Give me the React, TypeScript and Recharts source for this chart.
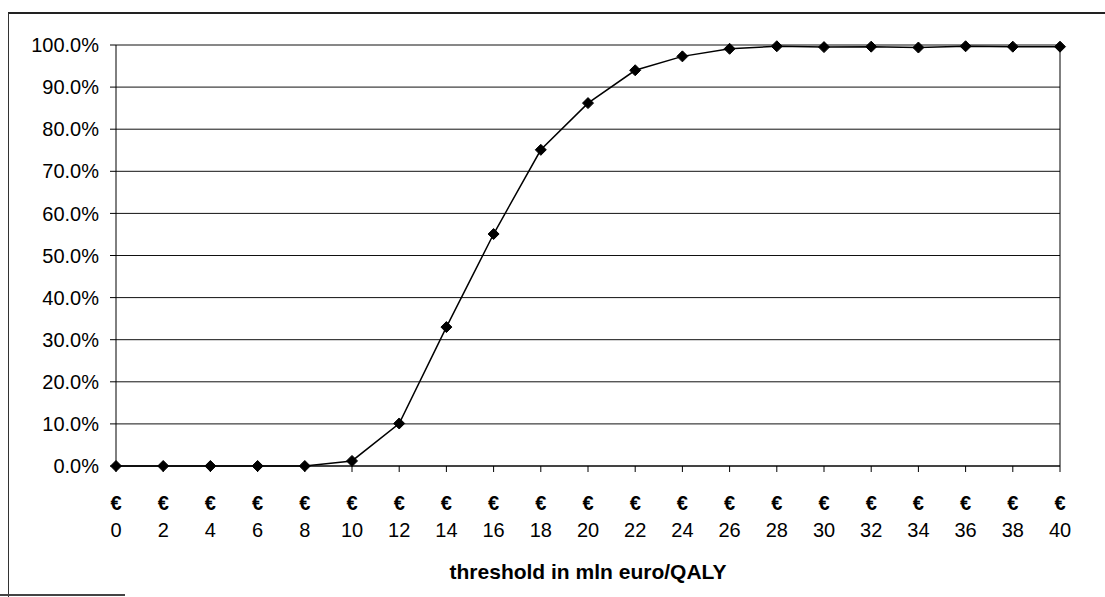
import { LineChart, Line, XAxis, YAxis, CartesianGrid, ReferenceLine } from "recharts";

// threshold (mln euro / QALY) and probability cost-effective (%)
const thresholds = [0, 2, 4, 6, 8, 10, 12, 14, 16, 18, 20, 22, 24, 26, 28, 30, 32, 34, 36, 38, 40];
const probability = [0, 0, 0, 0, 0, 1.2, 10.1, 33.0, 55.1, 75.1, 86.2, 94.0, 97.3, 99.1, 99.7, 99.5, 99.6, 99.4, 99.7, 99.6, 99.6];
const yTicks = [0, 10, 20, 30, 40, 50, 60, 70, 80, 90, 100];
const axisTitle = "threshold in mln euro/QALY";

const data = thresholds.map((t, i) => ({ t, p: probability[i] }));

const FONT = "'Liberation Sans', Arial, sans-serif";

const Diamond = (props: any) => {
  const { cx, cy } = props;
  if (cx == null || cy == null) return null;
  const r = 5.5;
  return (
    <polygon
      points={`${cx},${cy - r} ${cx + r},${cy} ${cx},${cy + r} ${cx - r},${cy}`}
      fill="#000"
      stroke="#000"
    />
  );
};

const EuroTick = (props: any) => {
  const { x, y, payload } = props;
  return (
    <g transform={`translate(${x},${y})`}>
      <text x={0} y={36} textAnchor="middle" fontSize={20} fontWeight="bold" fill="#000" fontFamily={FONT}>
        €
      </text>
      <text x={0} y={63} textAnchor="middle" fontSize={20} fill="#000" fontFamily={FONT}>
        {payload.value}
      </text>
    </g>
  );
};

export default function App() {
  return (
    <div style={{ position: "fixed", left: 0, top: 0, width: 1105, height: 597, background: "#fff", overflow: "hidden" }}>
      {/* scanned frame around the figure */}
      <div style={{ position: "absolute", left: 8, top: 12, width: 1110, height: 600, borderLeft: "1px solid #333", borderTop: "2px solid #222" }} />
      <div style={{ position: "absolute", left: 0, top: 594, width: 125, height: 0, borderTop: "2px solid #444" }} />
      <LineChart
        width={1105}
        height={597}
        data={data}
        margin={{ top: 45, right: 45, left: 16, bottom: 0 }}
        style={{ fontFamily: FONT }}
      >
        <CartesianGrid horizontal vertical={false} stroke="#111" strokeWidth={1} />
        <XAxis
          dataKey="t"
          type="number"
          domain={[0, 40]}
          ticks={thresholds}
          interval={0}
          height={131}
          tickSize={6}
          tick={<EuroTick />}
          axisLine={{ stroke: "#000" }}
          tickLine={{ stroke: "#000" }}
          label={{
            value: axisTitle,
            position: "insideBottom",
            offset: 18,
            fontSize: 21,
            fontWeight: "bold",
            fill: "#000",
            fontFamily: FONT,
          }}
        />
        <YAxis
          type="number"
          domain={[0, 100]}
          ticks={yTicks}
          interval={0}
          width={100}
          tickSize={6}
          tickMargin={11}
          tickFormatter={(v: number) => `${v.toFixed(1)}%`}
          tick={{ fontSize: 20, fill: "#000", fontFamily: FONT }}
          axisLine={{ stroke: "#000" }}
          tickLine={{ stroke: "#000" }}
        />
        <ReferenceLine x={40} stroke="#000" strokeWidth={1} />
        <Line
          type="linear"
          dataKey="p"
          stroke="#000"
          strokeWidth={1.5}
          dot={<Diamond />}
          activeDot={false}
          isAnimationActive={false}
        />
      </LineChart>
    </div>
  );
}
